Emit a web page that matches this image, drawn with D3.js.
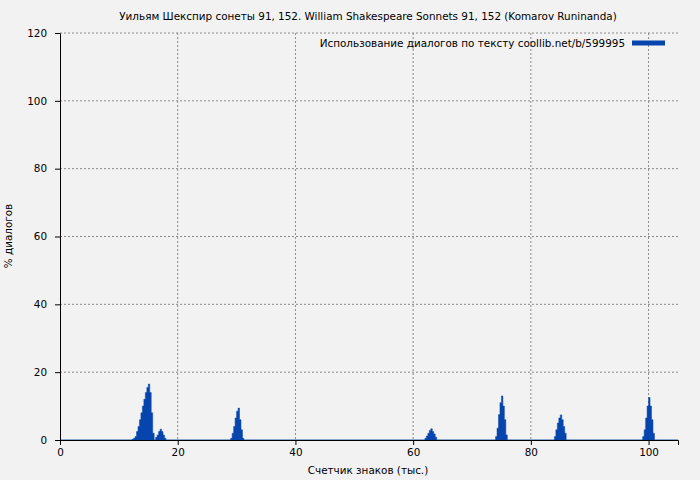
<!DOCTYPE html>
<html><head><meta charset="utf-8">
<script src="https://cdn.jsdelivr.net/npm/d3@7"></script>
<style>body{margin:0;background:#f2f2f2}svg{font-family:"DejaVu Sans",sans-serif}</style>
</head><body><svg id="c" width="700" height="480"></svg>
<script>
const title="Уильям Шекспир сонеты 91, 152. William Shakespeare Sonnets 91, 152 (Komarov Runinanda)";
const legendLabel="Использование диалогов по тексту coollib.net/b/599995";
const xLabel="Счетчик знаков (тыс.)";
const yLabel="% диалогов";
const xTicks=[0,20,40,60,80,100];
const yTicks=[0,20,40,60,80,100,120];
const xs=[0,12,12.25,12.5,12.75,13,13.25,13.5,13.75,14,14.25,14.5,14.75,15,15.25,15.5,15.75,16,16.25,16.5,16.75,17,17.25,17.5,17.75,18,
29,29.25,29.5,29.75,30,30.25,30.5,30.75,31,31.25,
62,62.25,62.5,62.75,63,63.25,63.5,63.75,64,
74,74.25,74.5,74.75,75,75.25,75.5,75.75,76,
84,84.25,84.5,84.75,85,85.25,85.5,85.75,86,
99,99.25,99.5,99.75,100,100.25,100.5,100.75,101,105];
const ys=[0,0,0.2,0.5,1,2.5,4,6,8,10,12,14,15.5,16.5,14,8,2,0,0.8,1.5,2.5,3.2,2.5,1.5,0.5,0,
0.5,2,4,6.5,8.5,9.4,6,3,0.5,0,
0.5,1.2,2,2.8,3.3,2.5,1.8,0.8,0,
1,3.5,7.5,11,13,10,6,1.5,0,
1,3,5,6.5,7.4,6,4,2,0,
1,3,6.5,10,12.5,10,6,2,0,0];
const data=xs.map((x,i)=>({x,y:ys[i]}));
const svg=d3.select("#c");
const m={l:60,r:678,t:33,b:440};
const fs=10.4;
const x=d3.scaleLinear().domain([0,105]).range([m.l,m.r]);
const y=d3.scaleLinear().domain([0,120]).range([m.b,m.t]);
const g=svg.append("g");
g.selectAll(".gx").data(xTicks.slice(1)).join("line").attr("x1",d=>x(d)).attr("x2",d=>x(d)).attr("y1",m.t).attr("y2",m.b).attr("stroke","#888").attr("stroke-dasharray","2,2");
g.selectAll(".gy").data(yTicks.slice(1)).join("line").attr("y1",d=>y(d)).attr("y2",d=>y(d)).attr("x1",m.l).attr("x2",m.r).attr("stroke","#888").attr("stroke-dasharray","2,2");
svg.append("path").datum(data).attr("fill","#0645ad").attr("stroke","#0645ad").attr("stroke-width",0.5).attr("d",d3.area().x(d=>x(d.x)).y0(y(0)).y1(d=>y(d.y)).curve(d3.curveStepAfter));
const ax=svg.append("g").attr("transform",`translate(0,${m.b})`).call(d3.axisBottom(x).tickValues(xTicks).tickSize(5).tickPadding(4));
const ay=svg.append("g").attr("transform",`translate(${m.l},0)`).call(d3.axisLeft(y).tickValues(yTicks).tickSize(5).tickPadding(4));
[ax,ay].forEach(a=>{a.selectAll("text").attr("font-size",fs).attr("fill","#000").attr("font-family","DejaVu Sans");a.select(".domain").attr("stroke","#000");a.selectAll(".tick line").attr("stroke","#000");});
ay.selectAll("text").attr("dx","-4");
svg.append("text").attr("x",368).attr("y",20).attr("text-anchor","middle").attr("font-size",fs).text(title);
svg.append("text").attr("x",368).attr("y",474).attr("text-anchor","middle").attr("font-size",fs).text(xLabel);
svg.append("text").attr("transform","translate(12,236) rotate(-90)").attr("text-anchor","middle").attr("font-size",fs).text(yLabel);
svg.append("text").attr("x",625).attr("y",47).attr("text-anchor","end").attr("font-size",fs).text(legendLabel);
svg.append("line").attr("x1",632).attr("x2",665).attr("y1",43).attr("y2",43).attr("stroke","#0645ad").attr("stroke-width",5);
</script></body></html>
